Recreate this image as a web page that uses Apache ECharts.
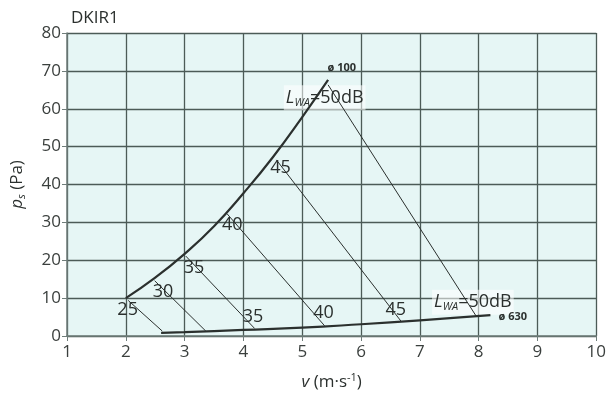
<!DOCTYPE html>
<html>
<head>
<meta charset="utf-8">
<script src="https://cdn.jsdelivr.net/npm/echarts@6/dist/echarts.min.js"></script>
<style>
  html, body { margin: 0; padding: 0; background: #fff; }
  #chart { width: 609px; height: 396px; }
</style>
</head>
<body>
<div id="chart"></div>
<script>
// curve for the smallest size (ø 100)
const d100V = [2, 2.5, 3, 3.5, 4, 4.5, 5, 5.44];
const d100P = [10, 15.4, 21.7, 29, 37.7, 47.2, 57.8, 67.6];
// curve for the largest size (ø 630)
const d630V = [2.6, 3, 4, 5, 6, 7, 8.2];
const d630P = [0.8, 1.0, 1.6, 2.2, 3.1, 4.1, 5.5];
// sound level lines, start on ø100 curve, end on ø630 curve
const isoDb = [25, 30, 35, 40, 45, 50];
const isoStart = [[2.04, 9.4], [2.49, 14.6], [3.02, 21.1], [3.72, 32.3], [4.56, 46.5], [5.44, 66.3]];
const isoEnd = [[2.62, 1.3], [3.36, 1.3], [4.19, 2.0], [5.38, 2.7], [6.68, 3.9], [7.96, 5.2]];
// dB labels
const dbLabels = ['25', '30', '35', '40', '45', '35', '40', '45'];
const dbLabelV = [2.04, 2.64, 3.17, 3.82, 4.64, 4.17, 5.37, 6.6];
const dbLabelP = [6.8, 11.6, 17.9, 29.3, 44.3, 5.0, 5.9, 6.8];
const xTicks = [1, 2, 3, 4, 5, 6, 7, 8, 9, 10];
const yTicks = [0, 10, 20, 30, 40, 50, 60, 70, 80];

const FONT = 'Open Sans';
const ink = '#2b302e';
const gridCol = '#4c5b57';

const chart = echarts.init(document.getElementById('chart'));

const zip = (a, b) => a.map((v, i) => [v, b[i]]);
const plain = { textBorderWidth: 0, textBorderColor: 'transparent', textShadowBlur: 0, opacity: 1 };

// scatter used only to carry text at data positions
function textSeries(data, label, z) {
  return {
    type: 'scatter', symbol: 'circle', symbolSize: 1, silent: true, z: z,
    itemStyle: { color: 'rgba(0,0,0,0)', opacity: 1 },
    data: data,
    label: Object.assign({ show: true, position: [0, 0], align: 'center', verticalAlign: 'middle' }, label, plain)
  };
}

let series = [];
isoDb.forEach((db, i) => {
  series.push({
    name: 'L' + db,
    type: 'line',
    data: [isoStart[i], isoEnd[i]],
    showSymbol: false,
    silent: true,
    lineStyle: { color: ink, width: 1 },
    z: 3
  });
});
series.push({
  name: 'd100', type: 'line', smooth: true, showSymbol: false, silent: true,
  data: zip(d100V, d100P),
  lineStyle: { color: ink, width: 2.2 }, z: 4
});
series.push({
  name: 'd630', type: 'line', smooth: true, showSymbol: false, silent: true,
  data: zip(d630V, d630P),
  lineStyle: { color: ink, width: 2.2 }, z: 4
});
// dB text labels
series.push(textSeries(
  dbLabels.map((t, i) => ({ value: [dbLabelV[i], dbLabelP[i]], name: t })),
  { formatter: p => p.name, fontFamily: FONT, fontSize: 18, color: ink },
  5
));
const lwaRich = {
  l: Object.assign({ fontFamily: FONT, fontSize: 18, fontStyle: 'italic', color: ink }, plain),
  s: Object.assign({ fontFamily: FONT, fontSize: 11, fontStyle: 'italic', color: ink, padding: [10, 0, 0, 0] }, plain),
  t: Object.assign({ fontFamily: FONT, fontSize: 18, color: ink }, plain)
};
series.push(textSeries(
  [{ value: [5.39, 62.8] }, { value: [7.91, 8.8] }],
  {
    formatter: '{l|L}{s|WA}{t|=50dB}', rich: lwaRich,
    backgroundColor: 'rgba(255,255,255,0.55)', padding: [2, 2, 2, 2]
  },
  2
));
series.push(textSeries(
  [{ value: [5.68, 70.7], name: 'ø 100' }, { value: [8.59, 4.9], name: 'ø 630' }],
  { formatter: p => p.name, fontFamily: FONT, fontSize: 11, fontWeight: 'bold', color: ink },
  5
));

chart.setOption({
  animation: false,
  title: {
    text: 'DKIR1', left: 66, top: 5,
    textStyle: { fontFamily: FONT, fontSize: 17, fontWeight: 'normal', color: ink }
  },
  grid: {
    left: 67, right: 12, top: 33, bottom: 60,
    show: true, backgroundColor: '#e6f6f5', borderWidth: 0
  },
  xAxis: {
    type: 'value', min: xTicks[0], max: xTicks[xTicks.length - 1], interval: 1,
    name: '{i|v} (m·s{sup|-1})',
    nameLocation: 'middle', nameGap: 36,
    nameTextStyle: {
      fontFamily: FONT, fontSize: 17, color: ink,
      rich: {
        i: { fontFamily: FONT, fontSize: 17, fontStyle: 'italic', color: ink },
        sup: { fontFamily: FONT, fontSize: 11, color: ink, padding: [0, 0, 9, 0] }
      }
    },
    axisLine: { show: true, lineStyle: { color: '#6f7d7a', width: 1.5 } },
    axisTick: { show: true, length: 5, lineStyle: { color: '#6f7d7a' } },
    axisLabel: { fontFamily: FONT, fontSize: 17, color: '#3a3f3d', margin: 8 },
    splitLine: { show: true, lineStyle: { color: gridCol, width: 1.3 } }
  },
  yAxis: {
    type: 'value', min: yTicks[0], max: yTicks[yTicks.length - 1], interval: 10,
    name: '{i|p}{sub|s} (Pa)',
    nameLocation: 'middle', nameGap: 40, nameRotate: 90,
    nameTextStyle: {
      fontFamily: FONT, fontSize: 17, color: ink,
      rich: {
        i: { fontFamily: FONT, fontSize: 17, fontStyle: 'italic', color: ink },
        sub: { fontFamily: FONT, fontSize: 11, fontStyle: 'italic', color: ink, padding: [9, 0, 0, 0] }
      }
    },
    axisLine: { show: true, lineStyle: { color: '#6f7d7a', width: 1.5 } },
    axisTick: { show: true, length: 5, lineStyle: { color: '#6f7d7a' } },
    axisLabel: { fontFamily: FONT, fontSize: 17, color: '#3a3f3d', margin: 6 },
    splitLine: { show: true, lineStyle: { color: gridCol, width: 1.3 } }
  },
  series: series
});
</script>
</body>
</html>
